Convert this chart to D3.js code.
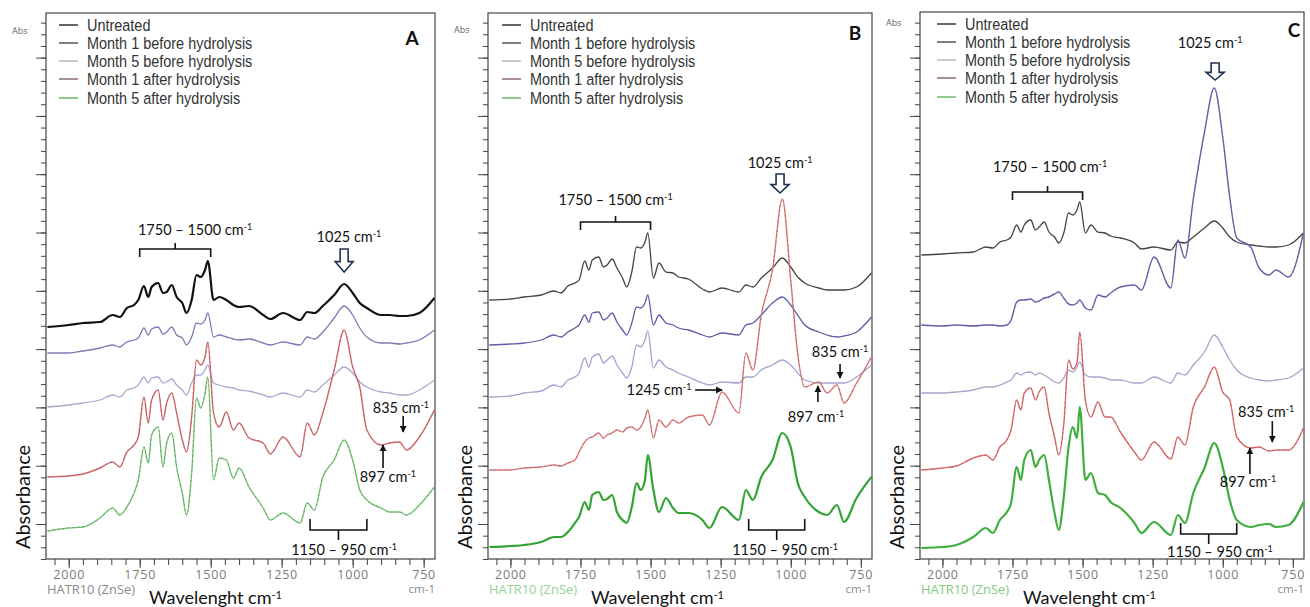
<!DOCTYPE html>
<html>
<head>
<meta charset="utf-8">
<script src="https://cdn.jsdelivr.net/npm/d3@7"></script>
<style>
  body { margin: 0; background: #fff; }
  text { font-family: Lato, "Open Sans", sans-serif; }
</style>
</head>
<body>
<svg id="vis" width="1310" height="607"></svg>
<script>
// shared wavenumber grid (cm-1) the spectra were read at
const wavenumbers = [2075, 2000, 1950, 1890, 1845, 1820, 1795, 1770, 1755, 1735, 1720, 1708, 1685, 1668, 1655, 1637, 1620, 1600, 1585, 1567, 1550, 1535, 1520, 1510, 1490, 1470, 1445, 1420, 1400, 1365, 1315, 1290, 1245, 1185, 1160, 1135, 1105, 1065, 1030, 1000, 975, 950, 900, 870, 835, 810, 765, 712];

const seriesNames = ["Untreated", "Month 1 before hydrolysis", "Month 5 before hydrolysis", "Month 1 after hydrolysis", "Month 5 after hydrolysis"];

// absorbance, mAbs (offset-stacked as in the figure)
// panel A
const untreatedA = [232,234,236,237,244,242,251,254,259,273,262,272,276,266,267,274,262,256,246,259,284,282,289,298,259,262,259,254,252,253,244,240,246,239,247,246,253,264,275,266,256,251,244,244,243,243,246,261];
const m1BeforeA = [206,206,208,211,214,212,217,219,221,231,224,230,232,225,227,232,224,221,214,222,236,235,239,246,222,224,222,220,219,220,216,214,217,214,222,220,227,241,253,244,231,222,216,216,215,216,219,229];
const m5BeforeA = [152,154,156,159,164,162,169,171,174,182,176,181,182,176,177,180,174,169,164,176,184,184,189,194,176,174,172,171,169,168,164,162,166,162,169,167,174,184,192,186,177,172,167,166,164,164,169,179];
const m1AfterA = [82,83,85,91,97,92,107,114,122,162,136,159,169,139,156,166,146,119,107,142,199,194,202,217,146,132,147,129,136,121,116,105,122,102,136,124,146,189,229,192,172,129,114,116,117,109,122,149];
const m5AfterA = [28,31,32,41,51,44,52,66,79,112,96,124,132,92,116,126,92,66,44,86,161,151,166,182,79,101,99,81,91,72,51,39,46,36,56,49,82,99,119,99,69,59,51,47,47,44,54,72];

// panel B
const untreatedB = [259,260,262,264,268,266,273,276,279,298,289,299,302,292,294,300,291,281,272,287,312,311,317,326,281,296,287,286,282,280,270,267,271,267,274,272,281,291,301,292,282,276,271,269,269,269,272,286];
const m1BeforeB = [214,215,216,219,224,222,227,231,234,244,237,246,247,239,241,246,237,229,224,236,252,251,256,264,234,244,236,234,231,229,224,222,226,224,234,236,244,256,262,254,244,234,227,224,222,223,227,242];
const m5BeforeB = [162,163,166,168,174,172,179,182,186,201,192,202,205,196,199,203,194,186,181,192,214,212,219,228,191,199,192,189,186,182,176,174,177,176,182,182,189,194,199,194,186,179,176,176,176,176,182,194];
const m1AfterB = [89,89,91,92,94,93,96,99,107,117,121,122,126,121,124,126,129,127,131,132,129,132,141,149,121,139,132,139,136,142,144,134,167,146,206,189,244,289,360,279,205,172,177,166,174,156,176,202];
const m5AfterB = [12,13,14,17,22,22,27,36,42,57,49,64,67,59,60,64,47,39,36,52,76,69,79,104,69,47,61,51,46,46,39,31,52,39,69,59,82,99,126,112,76,62,47,44,54,37,61,82];

// panel C
const untreatedC = [304,305,306,307,312,311,317,319,322,334,327,334,339,329,332,337,327,322,316,326,346,344,349,357,326,334,327,326,323,321,316,310,312,309,317,316,322,331,338,331,322,317,314,313,312,312,314,326];
const m1BeforeC = [234,233,234,233,234,234,233,234,239,257,259,259,260,257,258,261,262,265,267,261,255,254,256,259,251,249,264,262,266,272,274,269,302,271,319,301,360,427,471,422,362,321,312,291,284,289,282,326];
const m5BeforeC = [166,166,167,169,172,172,174,177,179,186,184,186,187,184,186,184,181,177,176,181,189,187,192,197,184,182,182,181,179,179,176,176,182,176,186,184,194,207,224,212,199,189,181,179,178,179,181,191];
const m1AfterC = [89,91,93,101,104,99,112,119,129,159,149,166,171,159,167,172,146,122,104,135,199,190,196,227,159,142,157,142,142,127,107,99,117,100,122,114,152,172,192,167,159,122,111,112,108,109,109,131];
const m5AfterC = [11,12,14,22,31,26,39,47,56,92,79,99,109,92,99,104,79,46,29,62,112,132,121,152,79,86,66,64,57,51,36,26,37,24,44,36,66,91,116,92,59,39,32,34,35,32,34,57];

const xMajorTicks = [2000, 1750, 1500, 1250, 1000, 750];
const legendColors = ["#333", "#555", "#b8b8b8", "#8c6b6b", "#6cb86c"];

const panels = [
  { key: "A", left: 46, right: 435, top: 13, bottom: 559, legendX: 13, letterDx: -23, letterY: 45, absY: 34, hatrColor: "#8a8a8a",
    series: [untreatedA, m1BeforeA, m5BeforeA, m1AfterA, m5AfterA],
    colors: ["#111", "#7b7bb8", "#a9a9d0", "#d8686a", "#74c874"],
    widths: [2.2, 1.3, 1.3, 1.4, 1.4], dashed: [false, false, false, true, true],
    peak: { w: 1030, vTop: 310, vBottom: 287, textW: 1013, textV: 317 },
    range1: { v: 310, textW: 1555, textV: 324 },
    range2: { v: 29, textW: 1030, textV: 4 },
    a835: { w: 822, v1: 143, v2: 127, textW: 830, textV: 146 },
    a897: { w: 893, v1: 91, v2: 114, textW: 876, textV: 77 } },
  { key: "B", left: 488, right: 872, top: 13, bottom: 559, legendX: 14, letterDx: -17, letterY: 40, absY: 33, hatrColor: "#93d393",
    series: [untreatedB, m1BeforeB, m5BeforeB, m1AfterB, m5AfterB],
    colors: ["#444", "#5c5ca8", "#a3a3cf", "#e07a7a", "#33a333"],
    widths: [1.3, 1.3, 1.3, 1.4, 2.2], dashed: [false, false, false, true, false],
    peak: { w: 1038, vTop: 385, vBottom: 366, textW: 1038, textV: 391 },
    range1: { v: 337, textW: 1625, textV: 354 },
    range2: { v: 29, textW: 1020, textV: 4 },
    a835: { w: 824, v1: 195, v2: 181, textW: 824, textV: 202 },
    a897: { w: 903, v1: 157, v2: 173, textW: 910, textV: 137 },
    a1245: { w1: 1341, w2: 1245, v: 169, textW: 1470, textV: 164 } },
  { key: "C", left: 920, right: 1304, top: 12, bottom: 559, legendX: 17, letterDx: -10, letterY: 37, absY: 26, hatrColor: "#7fcb7f",
    series: [untreatedC, m1BeforeC, m5BeforeC, m1AfterC, m5AfterC],
    colors: ["#444", "#6464b0", "#a6a6cc", "#e26a6a", "#3fae3f"],
    widths: [1.3, 1.4, 1.3, 1.4, 2.2], dashed: [false, true, false, true, false],
    peak: { w: 1027, vTop: 496, vBottom: 479, textW: 1045, textV: 511 },
    range1: { v: 367, textW: 1616, textV: 387 },
    range2: { v: 25, textW: 1010, textV: 2 },
    a835: { w: 823, v1: 138, v2: 117, textW: 845, textV: 142 },
    a897: { w: 903, v1: 85, v2: 111, textW: 910, textV: 72 } }
];

const svg = d3.select("#vis");
const defs = svg.append("defs");
defs.append("marker").attr("id", "head")
  .attr("viewBox", "0 0 10 10").attr("refX", 9).attr("refY", 5)
  .attr("markerWidth", 4.5).attr("markerHeight", 4.5).attr("orient", "auto")
  .append("path").attr("d", "M0,0L10,5L0,10Z").attr("fill", "#111");

function cmText(sel, base) {
  sel.append("tspan").text(base);
  sel.append("tspan").attr("dy", -5).attr("font-size", "0.62em").text("-1");
}

panels.forEach(p => {
  const x = d3.scaleLinear().domain([2080, 710]).range([p.left, p.right]);
  const y = d3.scaleLinear().domain([0, p.bottom - p.top]).range([p.bottom, p.top]);
  const g = svg.append("g");

  defs.append("clipPath").attr("id", "clip" + p.key)
    .append("rect").attr("x", p.left).attr("y", p.top)
    .attr("width", p.right - p.left).attr("height", p.bottom - p.top);

  // y ticks (no labels)
  const minorY = d3.range(35 - 11.66 * 3, p.bottom - p.top, 11.66).filter(v => v > 0);
  const majorY = d3.range(35, p.bottom - p.top, 58.3);
  g.append("g").attr("transform", `translate(${p.left},0)`)
    .call(d3.axisLeft(y).tickValues(minorY).tickSize(5).tickFormat(""))
    .call(a => a.select(".domain").remove())
    .selectAll("line").attr("stroke", "#444");
  g.append("g").attr("transform", `translate(${p.left},0)`)
    .call(d3.axisLeft(y).tickValues(majorY).tickSize(10).tickFormat(""))
    .call(a => a.select(".domain").remove())
    .selectAll("line").attr("stroke", "#444");

  // x ticks
  g.append("g").attr("transform", `translate(0,${p.bottom})`)
    .call(d3.axisBottom(x).tickValues(d3.range(750, 2051, 50)).tickSize(6).tickFormat(""))
    .call(a => a.select(".domain").remove())
    .selectAll("line").attr("stroke", "#444");
  const xa = g.append("g").attr("transform", `translate(0,${p.bottom})`)
    .call(d3.axisBottom(x).tickValues(xMajorTicks).tickSize(9).tickPadding(2).tickFormat(d3.format("d")));
  xa.select(".domain").remove();
  xa.selectAll("line").attr("stroke", "#444");
  xa.selectAll("text").attr("fill", "#7a7a7a").attr("font-size", 12.5)
    .attr("letter-spacing", 0.8)
    .style("font-family", "'Open Sans', sans-serif");

  // frame
  g.append("rect").attr("x", p.left).attr("y", p.top)
    .attr("width", p.right - p.left).attr("height", p.bottom - p.top)
    .attr("fill", "none").attr("stroke", "#444").attr("stroke-width", 1.2);

  g.append("text").attr("x", p.left - 34).attr("y", p.absY).attr("font-size", 9)
    .attr("fill", "#666").style("font-family", "'Open Sans', sans-serif").text("Abs");

  // spectra
  const line = d3.line().x(d => x(d[0])).y(d => y(d[1])).curve(d3.curveMonotoneX);
  const lines = g.append("g").attr("clip-path", `url(#clip${p.key})`);
  p.series.forEach((vals, i) => {
    const pts = d3.zip(wavenumbers, vals);
    lines.append("path").datum(pts).attr("d", line)
      .attr("fill", "none").attr("stroke", p.colors[i]).attr("stroke-width", p.widths[i])
      .attr("stroke-linejoin", "round");
    if (p.dashed[i]) {
      lines.append("path").datum(pts).attr("d", line)
        .attr("fill", "none").attr("stroke", "#555").attr("stroke-width", 0.7)
        .attr("stroke-opacity", 0.55).attr("stroke-dasharray", "2,3");
    }
  });

  // legend
  const lg = g.append("g");
  seriesNames.forEach((name, i) => {
    const cy = p.top + [12, 30, 48, 66, 85][i];
    lg.append("line").attr("x1", p.left + p.legendX).attr("x2", p.left + p.legendX + 19)
      .attr("y1", cy).attr("y2", cy).attr("stroke", legendColors[i]).attr("stroke-width", 1.5);
    lg.append("text")
      .attr("transform", `translate(${p.left + p.legendX + 28},${cy + 6}) scale(0.85,1)`)
      .attr("font-size", 17).attr("fill", "#333")
      .style("font-family", "'Liberation Sans', Arial, sans-serif").text(name);
  });

  g.append("text").attr("x", p.right + p.letterDx).attr("y", p.letterY)
    .attr("text-anchor", "middle").attr("font-size", 19).attr("font-weight", "bold")
    .attr("fill", "#111").text(p.key);

  // annotations
  const an = g.append("g").attr("fill", "#111").attr("font-size", 14.5);
  const stroke = s => s.attr("stroke", "#111").attr("stroke-width", 1.6).attr("fill", "none");

  // 1750-1500 bracket (above)
  const r1 = p.range1, by = y(r1.v);
  stroke(an.append("path").attr("d",
    `M${x(1750)},${by + 8}V${by}H${x(1500)}V${by + 8}M${x(1625)},${by}V${by - 6}`));
  cmText(an.append("text").attr("x", x(r1.textW)).attr("y", y(r1.textV)).attr("text-anchor", "middle"), "1750 – 1500 cm");

  // 1150-950 bracket (below)
  const r2 = p.range2, b2 = y(r2.v);
  stroke(an.append("path").attr("d",
    `M${x(1150)},${b2 - 11}V${b2}H${x(950)}V${b2 - 11}M${x(1050)},${b2}V${b2 + 10}`));
  cmText(an.append("text").attr("x", x(r2.textW)).attr("y", y(r2.textV)).attr("text-anchor", "middle"), "1150 – 950 cm");

  // 1025 hollow arrow
  const pk = p.peak, cx = x(pk.w), t = y(pk.vTop), b = y(pk.vBottom), m = t + (b - t) * 0.55;
  an.append("path").attr("d",
    `M${cx - 4},${t}H${cx + 4}V${m}H${cx + 9}L${cx},${b}L${cx - 9},${m}H${cx - 4}Z`)
    .attr("fill", "#fff").attr("stroke", "#1f3050").attr("stroke-width", 1.6);
  cmText(an.append("text").attr("x", x(pk.textW)).attr("y", y(pk.textV)).attr("text-anchor", "middle"), "1025 cm");

  // small arrows
  [p.a835, p.a897].forEach((a, k) => {
    stroke(an.append("line").attr("x1", x(a.w)).attr("x2", x(a.w))
      .attr("y1", y(a.v1)).attr("y2", y(a.v2))).attr("marker-end", "url(#head)");
    cmText(an.append("text").attr("x", x(a.textW)).attr("y", y(a.textV)).attr("text-anchor", "middle"), k ? "897 cm" : "835 cm");
  });
  if (p.a1245) {
    const a = p.a1245;
    stroke(an.append("line").attr("x1", x(a.w1)).attr("x2", x(a.w2))
      .attr("y1", y(a.v)).attr("y2", y(a.v))).attr("marker-end", "url(#head)");
    cmText(an.append("text").attr("x", x(a.textW)).attr("y", y(a.textV)).attr("text-anchor", "middle"), "1245 cm");
  }

  // axis titles
  g.append("text").attr("x", p.left + 1).attr("y", 594).attr("font-size", 12.5)
    .attr("textLength", 88).attr("lengthAdjust", "spacingAndGlyphs")
    .attr("fill", p.hatrColor).style("font-family", "'Open Sans', sans-serif").text("HATR10 (ZnSe)");
  g.append("text").attr("x", p.right).attr("y", 593).attr("text-anchor", "end").attr("font-size", 11.5)
    .attr("fill", "#888").style("font-family", "'Open Sans', sans-serif").text("cm-1");
  cmText(g.append("text").attr("x", p.left + 103).attr("y", 604).attr("font-size", 18).attr("fill", "#111"), "Wavelenght cm");
  g.append("text").attr("transform", `translate(${p.left - 16},497) rotate(-90)`)
    .attr("text-anchor", "middle").attr("font-size", 20).attr("fill", "#111").text("Absorbance");
});
</script>
</body>
</html>
